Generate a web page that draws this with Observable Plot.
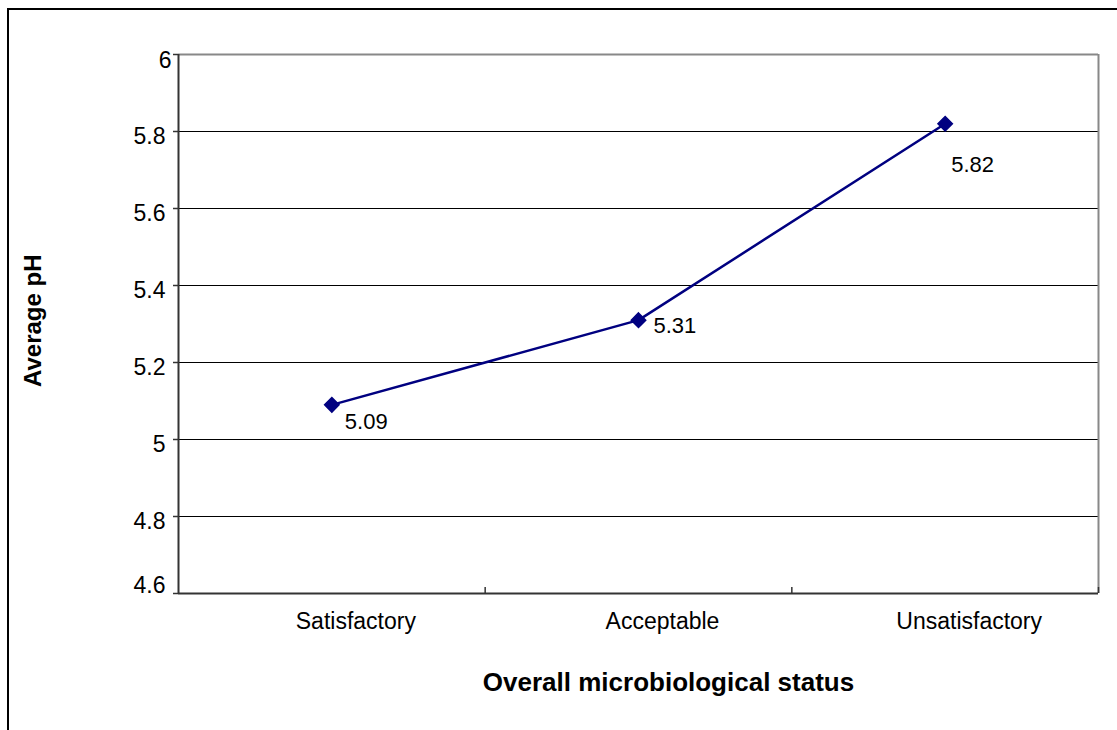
<!DOCTYPE html>
<html>
<head>
<meta charset="utf-8">
<script src="https://cdn.jsdelivr.net/npm/d3@7"></script>
<script src="https://cdn.jsdelivr.net/npm/@observablehq/plot@0.6"></script>
<style>
  html, body { margin: 0; padding: 0; background: #fff; overflow: hidden; }
  #wrap { position: relative; width: 1117px; height: 730px; }
  #border { position: absolute; left: 7px; top: 8px; width: 1200px; height: 800px; border: 2px solid #000; box-sizing: border-box; }
  #chart { position: absolute; left: 0; top: 0; }
  svg text { font-family: "Liberation Sans", Arial, sans-serif; }
</style>
</head>
<body>
<div id="wrap">
  <div id="border"></div>
  <div id="chart"></div>
</div>
<script>
const categories = ["Satisfactory", "Acceptable", "Unsatisfactory"];
const values = [5.09, 5.31, 5.82];
const yTicksAll = [4.6, 4.8, 5.0, 5.2, 5.4, 5.6, 5.8, 6.0];
const yTicks = [4.8, 5.0, 5.2, 5.4, 5.6, 5.8];
const yTickBottom = [4.6];
const yTickTop = [6.0];
const gridValues = [4.8, 5.0, 5.2, 5.4, 5.6, 5.8];
const xTitle = "Overall microbiological status";
const yTitle = "Average pH";

const data = categories.map((c, i) => ({category: c, pos: i + 0.5, value: values[i]}));
const fmt = d => String(+(+d).toFixed(2));

const labelOpts = {tickSize: 0, tickPadding: 13, tickFormat: fmt, fontSize: 23, fill: "#000"};

const plot = Plot.plot({
  width: 1117,
  height: 730,
  marginLeft: 178,
  marginRight: 19,
  marginTop: 54,
  marginBottom: 137,
  style: {fontFamily: "Liberation Sans, Arial, sans-serif", fontSize: "23px", color: "#000", background: "transparent"},
  x: {domain: [0, categories.length], label: null},
  y: {domain: [4.6, 6.0], label: null},
  marks: [
    Plot.ruleY(gridValues, {stroke: "#000", strokeWidth: 1}),
    Plot.ruleY([6.0], {stroke: "#888", strokeWidth: 2}),
    Plot.ruleX([categories.length], {stroke: "#888", strokeWidth: 2}),
    Plot.ruleX([0], {stroke: "#333", strokeWidth: 2}),
    Plot.ruleY([4.6], {stroke: "#333", strokeWidth: 2}),
    Plot.axisY({ticks: yTicksAll, tickSize: 5, text: null, stroke: "#333", strokeWidth: 1.5}),
    Plot.axisY({ticks: yTicks, dy: 5, ...labelOpts}),
    Plot.axisY({ticks: yTickBottom, dy: -8, ...labelOpts}),
    Plot.axisY({ticks: yTickTop, dy: 6, ...labelOpts, tickPadding: 7}),
    Plot.axisX({ticks: [1, 2, 3], tickSize: -6, text: null, stroke: "#333", strokeWidth: 1.5}),
    Plot.text(data, {x: "pos", y: 4.6, text: "category", dx: 24, dy: 28, fontSize: 23, fill: "#000"}),
    Plot.line(data, {x: "pos", y: "value", stroke: "#000080", strokeWidth: 2.5}),
    Plot.dot(data, {x: "pos", y: "value", symbol: "diamond2", r: 6.5, fill: "#000080", stroke: "#000080"}),
    Plot.text(data.filter((d, i) => i === 0), {x: "pos", y: "value", text: d => fmt(d.value), textAnchor: "start", dx: 13, dy: 17, fontSize: 22, fill: "#000"}),
    Plot.text(data.filter((d, i) => i === 1), {x: "pos", y: "value", text: d => fmt(d.value), textAnchor: "start", dx: 15, dy: 6, fontSize: 22, fill: "#000"}),
    Plot.text(data.filter((d, i) => i === 2), {x: "pos", y: "value", text: d => fmt(d.value), textAnchor: "start", dx: 6, dy: 41, fontSize: 22, fill: "#000"}),
    Plot.text([xTitle], {x: categories.length / 2, y: 4.6, text: d => d, dx: 30, dy: 89, fontSize: 26, fontWeight: "bold", fill: "#000"}),
    Plot.text([yTitle], {frameAnchor: "left", y: 5.3, text: d => d, dx: -145, dy: 63, rotate: -90, fontSize: 24, fontWeight: "bold", fill: "#000"})
  ]
});
document.getElementById("chart").appendChild(plot);
</script>
</body>
</html>
